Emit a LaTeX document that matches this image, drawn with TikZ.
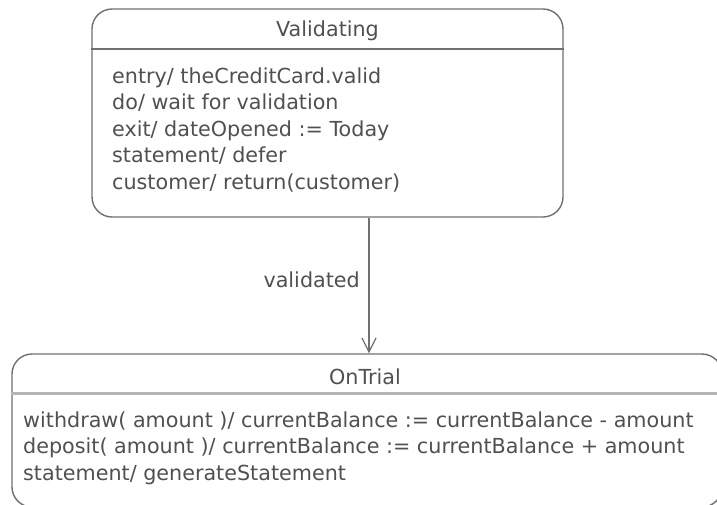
\documentclass[tikz,border=0pt]{standalone}
\usepackage{fontspec}
\setmainfont{DejaVu Sans}
\usetikzlibrary{arrows.meta}
\definecolor{linegray}{HTML}{707070}
\definecolor{textgray}{HTML}{505050}
\definecolor{divgray}{HTML}{B4B4B4}
\tikzset{
  statebox/.style={draw=linegray, line width=1.4pt, rounded corners=20pt, inner sep=0pt},
  txt/.style={text=textgray, font=\fontsize{20.7}{26}\selectfont, inner sep=0pt},
  arr/.style={draw=linegray, line width=1.3pt, -{Straight Barb[length=14pt,width=14pt,line width=1.2pt]}},
}
\begin{document}
\begin{tikzpicture}[x=1pt,y=-1pt]
\useasboundingbox (0,0) rectangle (717,504);
\clip (0,0) rectangle (717,504);
% Validating state
\node[statebox, minimum width=471pt, minimum height=208pt] (val) at (327.5,113) {};
\draw[linegray, line width=1.4pt] (val.west |- 0,49) -- (val.east |- 0,49);
\node[txt, anchor=base] (valt) at (327.5,36.5) {Validating};
\node[txt, anchor=base west] (v1) at (112,83) {entry/ theCreditCard.valid};
\node[txt, anchor=base west] (v2) at (112,109.5) {do/ wait for validation};
\node[txt, anchor=base west] (v3) at (112,136) {exit/ dateOpened := Today};
\node[txt, anchor=base west] (v4) at (112,162.5) {statement/ defer};
\node[txt, anchor=base west] (v5) at (112,189) {customer/ return(customer)};
% OnTrial state
\node[statebox, minimum width=710pt, minimum height=153pt] (trial) at (367,430.5) {};
\draw[divgray, line width=3pt] (trial.west |- 0,393) -- (trial.east |- 0,393);
\node[txt, anchor=base] (tt) at (365,384.5) {OnTrial};
\node[txt, anchor=base west] (t1) at (23,427) {withdraw( amount )/ currentBalance := currentBalance - amount};
\node[txt, anchor=base west] (t2) at (23,453.5) {deposit( amount )/ currentBalance := currentBalance + amount};
\node[txt, anchor=base west] (t3) at (23,480) {statement/ generateStatement};
% transition
\draw[arr] (val.south -| 369,0) -- (trial.north -| 369,0);
\node[txt, anchor=base east] (lbl) at (360,287) {validated};
\end{tikzpicture}
\end{document}
